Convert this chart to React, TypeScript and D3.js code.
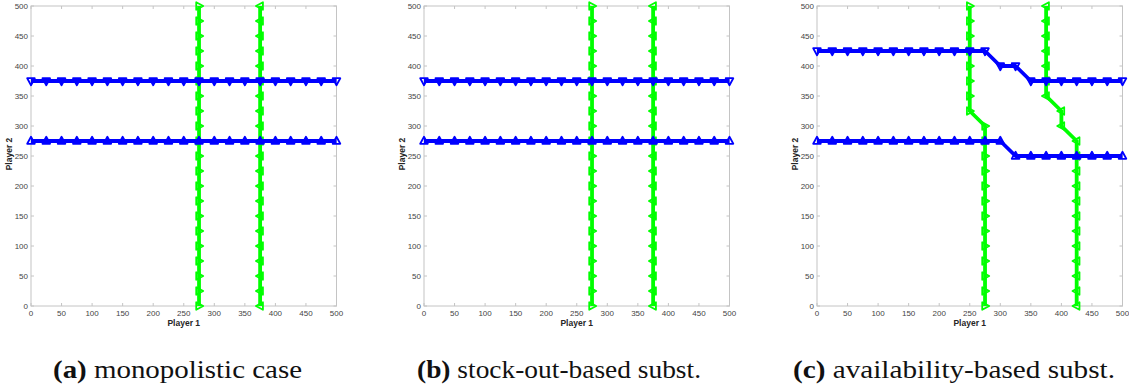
import React from "react";
import * as d3 from "d3";

const grid = [0, 25, 50, 75, 100, 125, 150, 175, 200, 225, 250, 275, 300, 325, 350, 375, 400, 425, 450, 475, 500];
const ticks = [0, 50, 100, 150, 200, 250, 300, 350, 400, 450, 500];

// Panel (a): monopolistic case
const aP2Up = [375, 375, 375, 375, 375, 375, 375, 375, 375, 375, 375, 375, 375, 375, 375, 375, 375, 375, 375, 375, 375];
const aP2Low = [275, 275, 275, 275, 275, 275, 275, 275, 275, 275, 275, 275, 275, 275, 275, 275, 275, 275, 275, 275, 275];
const aP1Left = [275, 275, 275, 275, 275, 275, 275, 275, 275, 275, 275, 275, 275, 275, 275, 275, 275, 275, 275, 275, 275];
const aP1Right = [375, 375, 375, 375, 375, 375, 375, 375, 375, 375, 375, 375, 375, 375, 375, 375, 375, 375, 375, 375, 375];

// Panel (b): stock-out-based substitution
const bP2Up = [375, 375, 375, 375, 375, 375, 375, 375, 375, 375, 375, 375, 375, 375, 375, 375, 375, 375, 375, 375, 375];
const bP2Low = [275, 275, 275, 275, 275, 275, 275, 275, 275, 275, 275, 275, 275, 275, 275, 275, 275, 275, 275, 275, 275];
const bP1Left = [275, 275, 275, 275, 275, 275, 275, 275, 275, 275, 275, 275, 275, 275, 275, 275, 275, 275, 275, 275, 275];
const bP1Right = [375, 375, 375, 375, 375, 375, 375, 375, 375, 375, 375, 375, 375, 375, 375, 375, 375, 375, 375, 375, 375];

// Panel (c): availability-based substitution
const cP2Up = [425, 425, 425, 425, 425, 425, 425, 425, 425, 425, 425, 425, 400, 400, 375, 375, 375, 375, 375, 375, 375];
const cP2Low = [275, 275, 275, 275, 275, 275, 275, 275, 275, 275, 275, 275, 275, 250, 250, 250, 250, 250, 250, 250, 250];
const cP1Left = [275, 275, 275, 275, 275, 275, 275, 275, 275, 275, 275, 275, 275, 250, 250, 250, 250, 250, 250, 250, 250];
const cP1Right = [425, 425, 425, 425, 425, 425, 425, 425, 425, 425, 425, 425, 400, 400, 375, 375, 375, 375, 375, 375, 375];

const captionLabels = ["(a)", "(b)", "(c)"];
const captionTexts = ["monopolistic case", "stock-out-based subst.", "availability-based subst."];

const panels = [
  { left: 31, p2Up: aP2Up, p2Low: aP2Low, p1Left: aP1Left, p1Right: aP1Right, capX: 53, capW: 249 },
  { left: 424, p2Up: bP2Up, p2Low: bP2Low, p1Left: bP1Left, p1Right: bP1Right, capX: 417, capW: 284 },
  { left: 817, p2Up: cP2Up, p2Low: cP2Low, p1Left: cP1Left, p1Right: cP1Right, capX: 793, capW: 322 },
];

const TOP = 6;
const H = 300;
const W = 305.5;
const BLUE = "#0000ff";
const GREEN = "#00ff00";
const AXIS = "#c4c4c4";
const TXT = "#444";
const SANS = "Liberation Sans, Arial, Helvetica, sans-serif";
const SERIF = "Liberation Serif, Times New Roman, serif";

const tri = {
  up: "M0,-4.2L3.8,2.8L-3.8,2.8Z",
  down: "M0,4.2L3.8,-2.8L-3.8,-2.8Z",
  right: "M4.2,0L-2.8,-3.8L-2.8,3.8Z",
  left: "M-4.2,0L2.8,-3.8L2.8,3.8Z",
};

function Panel({ p, i }: { p: any; i: number }) {
  const x = d3.scaleLinear().domain([0, 500]).range([p.left, p.left + W]);
  const y = d3.scaleLinear().domain([0, 500]).range([TOP + H, TOP]);
  const line = d3.line<[number, number]>().x((d) => x(d[0])).y((d) => y(d[1]));

  const p2Up: [number, number][] = grid.map((g, k) => [g, p.p2Up[k]]);
  const p2Low: [number, number][] = grid.map((g, k) => [g, p.p2Low[k]]);
  const p1Left: [number, number][] = grid.map((g, k) => [p.p1Left[k], g]);
  const p1Right: [number, number][] = grid.map((g, k) => [p.p1Right[k], g]);

  const series = [
    { pts: p1Left, color: GREEN, m: tri.right },
    { pts: p1Right, color: GREEN, m: tri.left },
    { pts: p2Low, color: BLUE, m: tri.up },
    { pts: p2Up, color: BLUE, m: tri.down },
  ];

  const x0 = x(0), x1 = x(500), y0 = y(0), y1 = y(500);
  const tl = 3;

  return (
    <g>
      <rect x={x0} y={y1} width={x1 - x0} height={y0 - y1} fill="white" stroke={AXIS} strokeWidth={1} />
      {ticks.map((t) => (
        <g key={"t" + t}>
          <line x1={x(t)} x2={x(t)} y1={y0} y2={y0 - tl} stroke={AXIS} />
          <line x1={x(t)} x2={x(t)} y1={y1} y2={y1 + tl} stroke={AXIS} />
          <line x1={x0} x2={x0 + tl} y1={y(t)} y2={y(t)} stroke={AXIS} />
          <line x1={x1} x2={x1 - tl} y1={y(t)} y2={y(t)} stroke={AXIS} />
          <text x={x(t)} y={y0 + 10} fontSize={8} fill={TXT} textAnchor="middle" fontFamily={SANS}>{t}</text>
          <text x={x0 - 3} y={y(t) + 3} fontSize={8} fill={TXT} textAnchor="end" fontFamily={SANS}>{t}</text>
        </g>
      ))}
      <text x={(x0 + x1) / 2} y={y0 + 20} fontSize={8.5} fontWeight="bold" fill="#262626" textAnchor="middle" fontFamily={SANS}>Player 1</text>
      <text transform={`translate(${x0 - 19},${(y0 + y1) / 2 - 2}) rotate(-90)`} fontSize={8.5} fontWeight="bold" fill="#262626" textAnchor="middle" fontFamily={SANS}>Player 2</text>

      {series.map((s, k) => (
        <g key={"s" + k}>
          <path d={line(s.pts) || ""} fill="none" stroke={s.color} strokeWidth={3.8} strokeLinejoin="round" />
          {s.pts.map((d, j) => (
            <path key={j} d={s.m} transform={`translate(${x(d[0])},${y(d[1])})`} fill="none" stroke={s.color} strokeWidth={1.8} strokeLinejoin="round" />
          ))}
        </g>
      ))}

      <text x={p.capX} y={378} fontSize={25} fill="#111" fontFamily={SERIF} textLength={p.capW} lengthAdjust="spacingAndGlyphs">
        <tspan fontWeight="bold" fontFamily={SERIF}>{captionLabels[i]}</tspan>
        <tspan fontFamily={SERIF}> {captionTexts[i]}</tspan>
      </text>
    </g>
  );
}

export default function App() {
  return (
    <svg width={1129} height={391} style={{ position: "absolute", left: 0, top: 0, background: "white" }}>
      <rect x={0} y={0} width={1129} height={391} fill="white" />
      {panels.map((p, i) => (
        <Panel key={i} p={p} i={i} />
      ))}
    </svg>
  );
}
